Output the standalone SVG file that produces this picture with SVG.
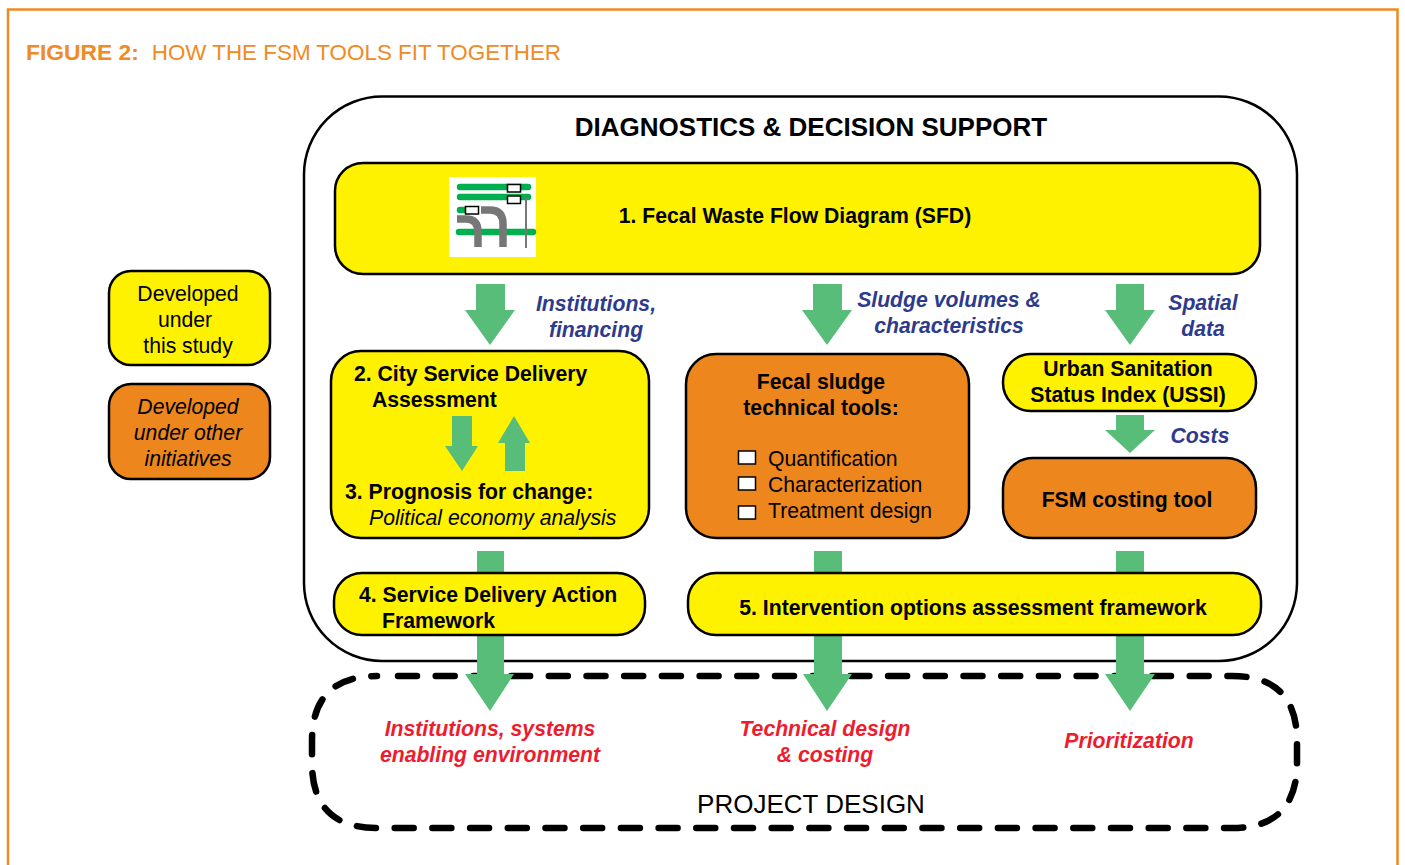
<svg xmlns="http://www.w3.org/2000/svg" width="1405" height="865" viewBox="0 0 1405 865">
<defs><style>
text{font-family:"Liberation Sans",Arial,sans-serif;fill:#000}
.t{font-size:21.2px}
.b{font-size:21.2px;font-weight:bold}
.i{font-size:21.2px;font-style:italic}
.m{text-anchor:middle}
.blue{font-size:21.2px;font-weight:bold;font-style:italic;fill:#2e3a8c;text-anchor:middle}
.red{font-size:21.2px;font-weight:bold;font-style:italic;fill:#ed1c2e;text-anchor:middle}
.y{fill:#fff200;stroke:#000;stroke-width:2.5}
.o{fill:#ee861e;stroke:#000;stroke-width:2.5}
.a{fill:#57bd78}
.c{fill:#fff;stroke:#000;stroke-width:1.5}
.g{fill:none;stroke:#00b050;stroke-width:6.5;stroke-linecap:round}
.p{fill:none;stroke:#777;stroke-width:7.5}
</style></defs>
<rect width="1405" height="865" fill="#fff"/>
<path d="M8 865V9.500H1397.500V865" fill="none" stroke="#f08a24" stroke-width="2.500"/>
<text x="26" y="59.500" style="fill:#f08a24;font-size:22.400px"><tspan font-weight="bold" style="font-size:22.800px">FIGURE 2:</tspan><tspan dx="13">HOW THE FSM TOOLS FIT TOGETHER</tspan></text>
<g id="diagnostics"><rect x="304" y="96.500" width="993" height="564.500" rx="78" fill="#fff" stroke="#000" stroke-width="2.500"/>
<text x="811" y="136" class="m" style="font-size:26px;font-weight:bold">DIAGNOSTICS &amp; DECISION SUPPORT</text></g>
<g id="project-design"><path d="M398 676H1232Q1297 676 1297 741V763Q1297 828 1232 828H377Q312 828 312 763V741Q312 676 377 676" fill="none" stroke="#000" stroke-width="6.500" stroke-linecap="round" stroke-dasharray="19 18.700"/>
<text x="811" y="813" class="m" style="font-size:26px">PROJECT DESIGN</text></g>
<g id="connectors">
<path class="a" d="M476 284H505V310H515L490 345L465 310H476Z"/>
<path class="a" d="M813 284H842V310H852L827 345L802 310H813Z"/>
<path class="a" d="M1116 284H1144V310H1155L1130 345L1105 310H1116Z"/>
<path class="a" d="M1116 415H1144V430H1155L1130 453L1105 430H1116Z"/>
<path class="a" d="M477 551H504V674H514L490 711L465 674H477Z"/>
<path class="a" d="M814 551H842V674H852L827 711L803 674H814Z"/>
<path class="a" d="M1116 551H1144V674H1155L1130 711L1105 674H1116Z"/>
</g>
<g id="n1"><rect class="y" x="335" y="163" width="925" height="111" rx="28"/>
<g id="sfd-icon"><rect x="449" y="177" width="87" height="80" fill="#fff"/>
<path class="g" d="M460 187H528M460 197H528M460 210H465M459 232H533"/>
<path class="p" d="M481 210H490Q503 210 503 224V247M457 219H466Q478 219 478 232V247"/>
<path d="M526 198V248" fill="none" stroke="#777" stroke-width="2"/>
<rect class="c" x="507.500" y="184.500" width="13" height="7.500"/><rect class="c" x="507.500" y="196" width="13" height="7.500"/><rect class="c" x="465.500" y="206.500" width="13" height="7.500"/></g>
<text x="795" y="223" class="b m">1. Fecal Waste Flow Diagram (SFD)</text></g>
<text x="596" y="311" class="blue">Institutions,</text><text x="596" y="337" class="blue">financing</text>
<text x="949" y="307" class="blue">Sludge volumes &amp;</text><text x="949" y="333" class="blue">characteristics</text>
<text x="1203" y="310" class="blue">Spatial</text><text x="1203" y="336" class="blue">data</text>
<text x="1200" y="443" class="blue">Costs</text>
<g id="legend-yellow"><rect class="y" x="109" y="271" width="161" height="94" rx="22"/>
<text x="188" y="301" class="t m">Developed</text><text x="185" y="327" class="t m">under</text><text x="188" y="353" class="t m">this study</text></g>
<g id="legend-orange"><rect class="o" x="109" y="384" width="161" height="95" rx="22"/>
<text x="188" y="414" class="i m">Developed</text><text x="188" y="440" class="i m">under other</text><text x="188" y="466" class="i m">initiatives</text></g>
<g id="n2-3"><rect class="y" x="331" y="351" width="318" height="187" rx="30"/>
<text x="354" y="381" class="b">2. City Service Delivery</text><text x="372" y="407" class="b">Assessment</text>
<path class="a" d="M452 416H472V446H478L462 471L445 446H452Z"/>
<path class="a" d="M505 471H525V443H530L514 416L498 443H505Z"/>
<text x="345" y="499" class="b">3. Prognosis for change:</text><text x="369" y="525" class="i">Political economy analysis</text></g>
<g id="fecal-tools"><rect class="o" x="686" y="354" width="283" height="184" rx="30"/>
<text x="821" y="389" class="b m">Fecal sludge</text><text x="821" y="415" class="b m">technical tools:</text>
<rect class="c" x="738.500" y="451" width="17" height="13"/><rect class="c" x="738.500" y="477" width="17" height="13"/><rect class="c" x="738.500" y="506" width="17" height="13"/>
<text x="768" y="466" class="t">Quantification</text><text x="768" y="492" class="t">Characterization</text><text x="768" y="518" class="t">Treatment design</text></g>
<g id="ussi"><rect class="y" x="1003" y="354" width="253" height="57" rx="28"/>
<text x="1128" y="376" class="b m">Urban Sanitation</text><text x="1128" y="402" class="b m">Status Index (USSI)</text></g>
<g id="costing"><rect class="o" x="1003" y="458" width="253" height="80" rx="30"/>
<text x="1127" y="507" class="b m">FSM costing tool</text></g>
<g id="n4"><rect class="y" x="334" y="573" width="311" height="62" rx="28"/>
<text x="359" y="602" class="b">4. Service Delivery Action</text><text x="382" y="628" class="b">Framework</text></g>
<g id="n5"><rect class="y" x="688" y="573" width="573" height="62" rx="28"/>
<text x="973" y="615" class="b m">5. Intervention options assessment framework</text></g>
<text x="490" y="736" class="red">Institutions, systems</text><text x="490" y="762" class="red">enabling environment</text>
<text x="825" y="736" class="red">Technical design</text><text x="825" y="762" class="red">&amp; costing</text>
<text x="1129" y="748" class="red">Prioritization</text>
</svg>
